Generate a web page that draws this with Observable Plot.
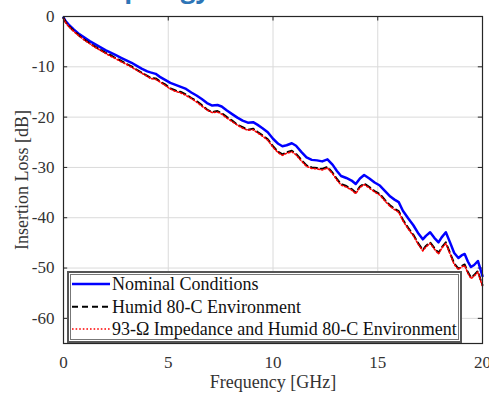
<!DOCTYPE html>
<html>
<head>
<meta charset="utf-8">
<script src="https://cdn.jsdelivr.net/npm/d3@7"></script>
<script src="https://cdn.jsdelivr.net/npm/@observablehq/plot@0.6"></script>
<style>
  html, body { margin: 0; padding: 0; background: #fff; overflow: hidden; }
  #wrap { position: relative; width: 489px; height: 395px; overflow: hidden; }
  #heading { position: absolute; left: 93px; top: -27px; font: bold 26px "Open Sans", sans-serif; color: #2E75B6; line-height: 30px; white-space: nowrap; }
  #legend { position: absolute; left: 67px; top: 271px; }
  #chart svg text { font-family: "Liberation Serif", serif !important; font-size: 17px !important; fill: #333; }
  #chart svg g[aria-label="x-axis label"] text,
  #chart svg g[aria-label="y-axis label"] text { font-size: 18px !important; }
</style>
</head>
<body>
<div id="wrap">
  <div id="heading">Topology</div>
  <div id="chart"></div>
  <svg id="legend" width="395" height="72"></svg>
</div>
<script>
const freq = [0, 0.1, 0.25, 0.5, 0.75, 1.0, 1.25, 1.5, 1.75, 2.0,
  2.25, 2.5, 2.75, 3.0, 3.25, 3.5, 3.75, 4.0, 4.15, 4.4,
  4.6, 4.85, 5.1, 5.35, 5.6, 5.85, 6.1, 6.35, 6.6, 6.85,
  7.1, 7.35, 7.55, 7.8, 8.05, 8.3, 8.55, 8.8, 9.05, 9.25,
  9.5, 9.75, 10.0, 10.25, 10.45, 10.65, 10.9, 11.1, 11.35, 11.6,
  11.85, 12.1, 12.35, 12.6, 12.85, 13.05, 13.25, 13.5, 13.75, 13.95,
  14.15, 14.35, 14.6, 14.85, 15.1, 15.35, 15.6, 15.8, 16.0, 16.2,
  16.45, 16.7, 16.95, 17.15, 17.3, 17.5, 17.7, 17.9, 18.05, 18.25,
  18.45, 18.65, 18.85, 19.0, 19.15, 19.3, 19.45, 19.6, 19.78, 19.9, 20.0];

const nominal = [-0.2, -0.9, -1.6, -2.6, -3.5, -4.2, -4.9, -5.5, -6.1, -6.7,
  -7.2, -7.7, -8.2, -8.7, -9.2, -9.8, -10.4, -10.9, -11.1, -11.4,
  -12.0, -12.6, -13.2, -13.6, -14.0, -14.4, -15.1, -15.7, -16.4, -17.2,
  -17.7, -17.6, -17.9, -18.7, -19.4, -20.1, -20.7, -21.1, -21.0, -21.5,
  -22.2, -23.0, -24.3, -25.3, -25.8, -25.6, -25.2, -25.7, -26.9, -28.0,
  -28.5, -28.6, -28.8, -28.4, -29.5, -30.7, -31.7, -32.1, -32.6, -33.3,
  -32.2, -31.5, -32.2, -33.0, -33.6, -34.7, -35.8, -36.4, -36.9, -38.6,
  -40.1, -41.5, -43.2, -44.3, -43.6, -42.9, -44.0, -44.9, -43.9, -42.9,
  -44.9, -47.0, -48.0, -47.5, -47.2, -48.7, -49.8, -49.4, -48.6, -50.2, -51.6];

const humid = [-0.3, -1.1, -1.9, -2.9, -3.8, -4.6, -5.3, -6.0, -6.6, -7.2,
  -7.7, -8.3, -8.8, -9.4, -9.9, -10.6, -11.2, -11.8, -12.2, -12.3,
  -12.9, -13.5, -14.3, -14.7, -15.0, -15.5, -16.2, -16.8, -17.6, -18.5,
  -19.0, -18.8, -19.2, -20.0, -20.7, -21.5, -22.0, -22.5, -22.3, -22.9,
  -23.6, -24.4, -25.8, -26.9, -27.4, -27.0, -26.7, -27.3, -28.5, -29.6,
  -30.0, -30.1, -30.3, -29.9, -31.1, -32.3, -33.3, -33.7, -34.3, -35.0,
  -33.8, -33.2, -33.9, -34.7, -35.3, -36.5, -37.6, -38.2, -38.7, -40.4,
  -42.0, -43.4, -45.2, -46.4, -45.6, -44.9, -46.0, -47.0, -45.9, -44.9,
  -47.0, -49.1, -50.1, -49.6, -49.3, -50.8, -51.9, -51.4, -50.6, -52.2, -53.4];

const impedanceHumid = [-0.4, -1.2, -2.0, -3.0, -3.9, -4.7, -5.4, -6.1, -6.7, -7.3,
  -7.9, -8.4, -9.0, -9.5, -10.1, -10.7, -11.3, -11.9, -12.3, -12.5,
  -13.0, -13.7, -14.4, -14.9, -15.2, -15.7, -16.3, -17.0, -17.8, -18.6,
  -19.1, -19.0, -19.4, -20.2, -20.9, -21.6, -22.2, -22.6, -22.5, -23.1,
  -23.8, -24.6, -26.0, -27.1, -27.6, -27.2, -26.9, -27.5, -28.7, -29.8,
  -30.2, -30.3, -30.5, -30.1, -31.3, -32.5, -33.5, -33.9, -34.5, -35.2,
  -34.0, -33.4, -34.1, -34.9, -35.5, -36.7, -37.8, -38.4, -38.9, -40.6,
  -42.2, -43.6, -45.4, -46.6, -45.8, -45.1, -46.2, -47.2, -46.1, -45.1,
  -47.2, -49.3, -50.3, -49.8, -49.5, -51.0, -52.1, -51.6, -50.8, -52.4, -53.6];

const seriesNames = ["Nominal Conditions", "Humid 80-C Environment", "93-\u03A9 Impedance and Humid 80-C Environment"];
const xTicks = [0, 5, 10, 15, 20];
const yTicks = [0, -10, -20, -30, -40, -50, -60];

const toRows = (vals) => freq.map((f, i) => ({f, v: vals[i]}));
const nomRows = toRows(nominal);
const humRows = toRows(humid);
const impRows = toRows(impedanceHumid);

const gridColor = "#dadada";
const axisColor = "#262626";

const chart = Plot.plot({
  width: 489,
  height: 395,
  marginLeft: 63,
  marginRight: 7,
  marginTop: 16,
  marginBottom: 52,
  style: { background: "transparent", fontFamily: "Liberation Serif, serif", fontSize: "17px", color: "#333" },
  x: { domain: [0, 20] },
  y: { domain: [-65, 0] },
  marks: [
    Plot.ruleX(xTicks, { x: d => d, stroke: gridColor, strokeWidth: 1 }),
    Plot.ruleY(yTicks, { y: d => d, stroke: gridColor, strokeWidth: 1 }),
    Plot.ruleX(xTicks, { x: d => d, y1: -65, y2: -64.1, stroke: axisColor }),
    Plot.ruleX(xTicks, { x: d => d, y1: 0, y2: -0.9, stroke: axisColor }),
    Plot.ruleY(yTicks, { y: d => d, x1: 0, x2: 0.2, stroke: axisColor }),
    Plot.ruleY(yTicks, { y: d => d, x1: 20, x2: 19.8, stroke: axisColor }),
    Plot.line(nomRows, { x: "f", y: "v", stroke: "#0000ff", strokeWidth: 2.5, curve: "linear" }),
    Plot.line(humRows, { x: "f", y: "v", stroke: "#000000", strokeWidth: 2, strokeDasharray: "6,4", curve: "linear" }),
    Plot.line(impRows, { x: "f", y: "v", stroke: "#ff0000", strokeWidth: 1.6, strokeDasharray: "1.6,2", curve: "linear" }),
    Plot.frame({ stroke: axisColor, strokeWidth: 1.2 }),
    Plot.axisX({ ticks: xTicks, tickSize: 0, tickPadding: 12, tickFormat: d => String(d),
      label: "Frequency [GHz]", labelAnchor: "center", labelOffset: 44, labelArrow: "none" }),
    Plot.axisY({ ticks: yTicks, tickSize: 0, tickPadding: 9, tickFormat: d => String(d),
      label: "Insertion Loss [dB]", labelAnchor: "center", labelOffset: 48, labelArrow: "none" })
  ]
});
document.getElementById("chart").appendChild(chart);

// legend
const lg = d3.select("#legend");
lg.append("rect").attr("x", 1).attr("y", 1).attr("width", 393).attr("height", 70)
  .attr("fill", "#fff").attr("stroke", "#555").attr("stroke-width", 2);
lg.append("rect").attr("x", 3.5).attr("y", 3.5).attr("width", 388).attr("height", 65)
  .attr("fill", "none").attr("stroke", "#777").attr("stroke-width", 1);
const styles = [
  { stroke: "#0000ff", w: 2.5, dash: null },
  { stroke: "#000", w: 2, dash: "6,4" },
  { stroke: "#ff0000", w: 1.6, dash: "1.6,2" }
];
const rowY = [13, 35.7, 58];
seriesNames.forEach((name, i) => {
  lg.append("line").attr("x1", 5).attr("x2", 43).attr("y1", rowY[i]).attr("y2", rowY[i])
    .attr("stroke", styles[i].stroke).attr("stroke-width", styles[i].w)
    .attr("stroke-dasharray", styles[i].dash);
  lg.append("text").attr("x", 45).attr("y", rowY[i]).attr("dy", "0.35em")
    .attr("font-family", "Liberation Serif, serif").attr("font-size", 18).attr("fill", "#111")
    .text(name);
});
</script>
</body>
</html>
